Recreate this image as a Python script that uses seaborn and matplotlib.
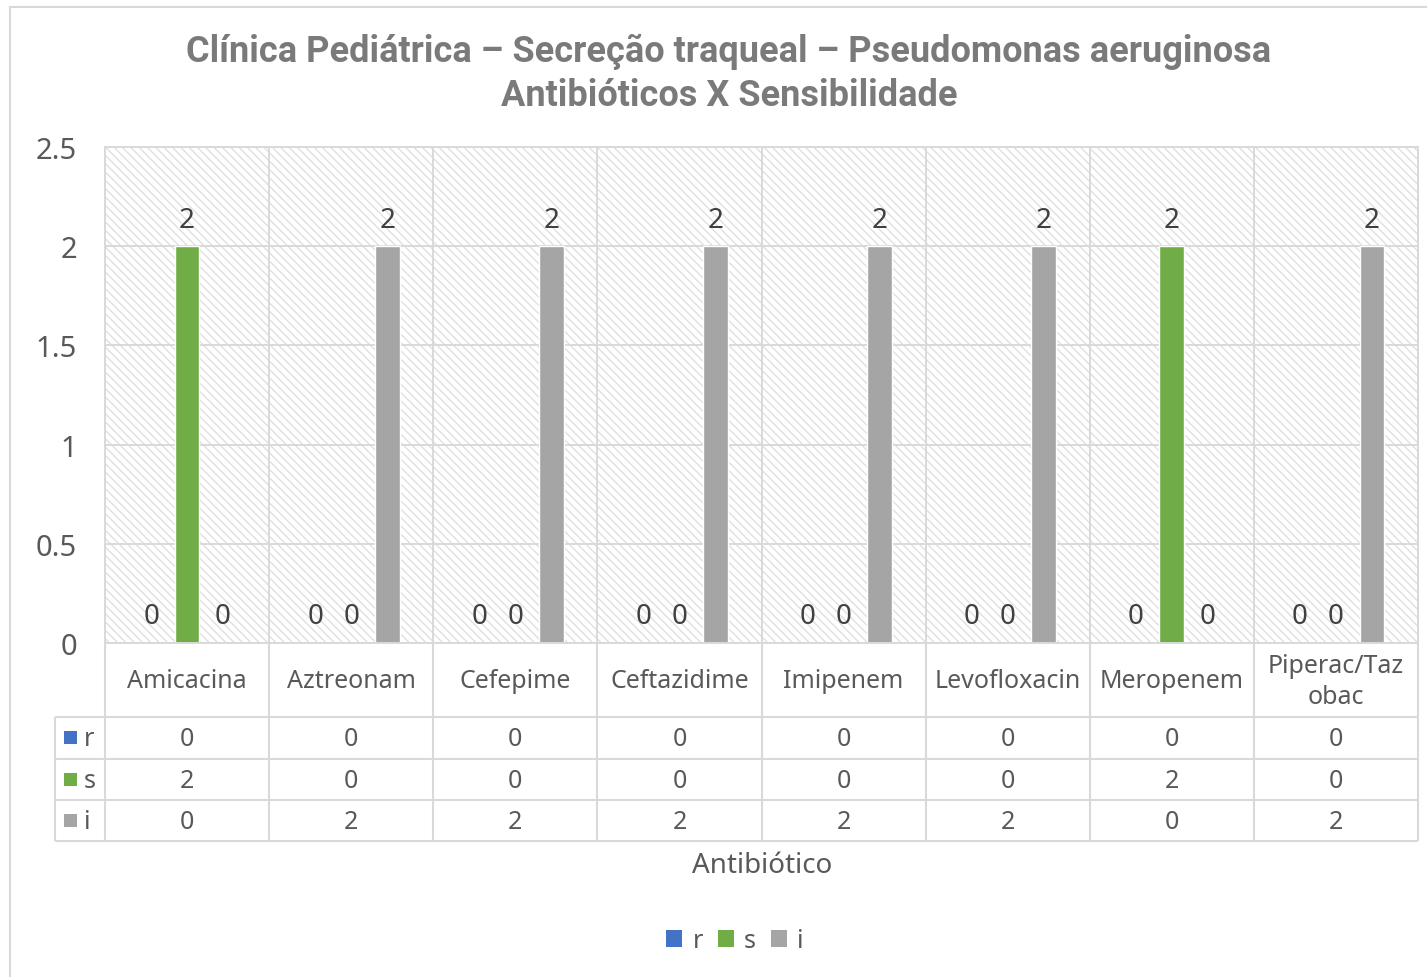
import numpy as np
import pandas as pd
import matplotlib
matplotlib.use("Agg")
import matplotlib.pyplot as plt
import seaborn as sns
from matplotlib.patches import Rectangle, Patch

# ---------------- data ----------------
categories = ["Amicacina", "Aztreonam", "Cefepime", "Ceftazidime",
              "Imipenem", "Levofloxacin", "Meropenem", "Piperac/Taz\nobac"]
series = ["r", "s", "i"]
r_values = [0, 0, 0, 0, 0, 0, 0, 0]
s_values = [2, 0, 0, 0, 0, 0, 2, 0]
i_values = [0, 2, 2, 2, 2, 2, 0, 2]
yticks = [0, 0.5, 1, 1.5, 2, 2.5]
colors = {"r": "#4472C4", "s": "#70AD47", "i": "#A5A5A5"}
title = "Clínica Pediátrica – Secreção traqueal – Pseudomonas aeruginosa\nAntibióticos X Sensibilidade"
xlabel = "Antibiótico"

values = {"r": r_values, "s": s_values, "i": i_values}
rows = []
for s in series:
    for c, v in zip(categories, values[s]):
        rows.append({"cat": c, "serie": s, "valor": v})
df = pd.DataFrame(rows)

# ---------------- style ----------------
sns.set_theme(style="white")
plt.rcParams["font.family"] = ["Noto Sans", "DejaVu Sans"]
plt.rcParams["hatch.linewidth"] = 1.0
GRID = "#D9D9D9"
TXT = "#595959"

W, H = 1427, 978
fig = plt.figure(figsize=(W / 100, H / 100), dpi=100)
fig.patch.set_facecolor("white")

ax = fig.add_axes([105 / W, 1 - 644 / H, (1418 - 105) / W, (644 - 148) / H])

# hatched background
ax.add_patch(Rectangle((0, 0), 1, 1, transform=ax.transAxes, facecolor="white",
                       edgecolor="#E0E0E0", hatch="\\\\\\\\", linewidth=0, zorder=0.2))

sns.barplot(data=df, x="cat", y="valor", hue="serie", order=categories,
            hue_order=series, palette=colors, width=0.658, gap=0.31,
            saturation=1, errorbar=None, legend=False, ax=ax, zorder=2)

ax.set_xlim(-0.5, len(categories) - 0.5)
ax.set_ylim(0, 2.5)
ax.set_yticks(yticks)
ax.set_yticklabels([f"{t:g}" for t in yticks])
ax.set_xlabel("")
ax.set_ylabel("")
ax.tick_params(axis="x", length=0, labelbottom=False)
ax.tick_params(axis="y", length=0, pad=20, labelsize=21, labelcolor=TXT)
ax.set_xticks(np.arange(-0.5, len(categories), 1), minor=True)
ax.tick_params(axis="x", which="minor", length=0)
ax.set_axisbelow(True)
ax.yaxis.grid(True, color=GRID, lw=1.4)
ax.xaxis.grid(True, which="minor", color=GRID, lw=1.4)
ax.xaxis.grid(False, which="major")
for sp in ax.spines.values():
    sp.set_color(GRID)
    sp.set_linewidth(1.4)

for cont in ax.containers:
    ax.bar_label(cont, fmt="%g", padding=9, fontsize=20, color="#404040")

# ---------------- data table ----------------
unit = (1418 - 105) / len(categories)
x_left = -0.5 - (105 - 55) / unit
tab = fig.add_axes([55 / W, 1 - 842 / H, (1418 - 55) / W, (842 - 644) / H])
tab.set_xlim(x_left, len(categories) - 0.5)
row_edges = [644, 718, 760, 801, 842]
tab.set_ylim(row_edges[-1], row_edges[0])
tab.axis("off")

tab.vlines(np.arange(-0.5, len(categories), 1), row_edges[0], row_edges[-1],
           color=GRID, lw=1.5, clip_on=False)
tab.vlines([x_left], row_edges[1], row_edges[-1], color=GRID, lw=1.5, clip_on=False)
tab.hlines(row_edges[1:], x_left, len(categories) - 0.5, color=GRID, lw=1.5, clip_on=False)

cat_mid = (row_edges[0] + row_edges[1]) / 2
for i, c in enumerate(categories):
    tab.text(i, cat_mid + 1, c, ha="center", va="center", fontsize=18,
             color=TXT, linespacing=1.3)

for k, s in enumerate(series):
    ymid = (row_edges[k + 1] + row_edges[k + 2]) / 2
    tab.add_patch(Rectangle((x_left + 9 / unit, ymid - 7), 13 / unit, 13,
                            facecolor=colors[s], edgecolor="none", clip_on=False))
    tab.text(x_left + 29 / unit, ymid + 1, s, ha="left", va="center",
             fontsize=18, color=TXT)
    for i, v in enumerate(values[s]):
        tab.text(i, ymid + 1, f"{v:g}", ha="center", va="center", fontsize=18, color=TXT)

# ---------------- texts ----------------
fig.text(729 / W, 1 - 74 / H, title, ha="center", va="center", fontsize=26,
         fontweight="bold", color="#7A7A7A", linespacing=1.3,
         family=["Roboto", "DejaVu Sans"])
fig.text(762 / W, 1 - 866 / H, xlabel, ha="center", va="center",
         fontsize=20, color=TXT)

handles = [Patch(facecolor=colors[s], edgecolor="none", label=s) for s in series]
leg = fig.legend(handles=handles, loc="center", bbox_to_anchor=(735 / W, 1 - 942 / H),
                 ncol=3, frameon=False, fontsize=18, handlelength=0.65,
                 handleheight=0.65, handletextpad=0.4, columnspacing=0.6)
for t in leg.get_texts():
    t.set_color(TXT)

# outer chart border
fig.add_artist(Rectangle((10 / W, -0.1), 1.2, 1.1 - 8 / H, transform=fig.transFigure,
                         fill=False, edgecolor=GRID, lw=1.5))

fig.savefig("out.png", dpi=100)
